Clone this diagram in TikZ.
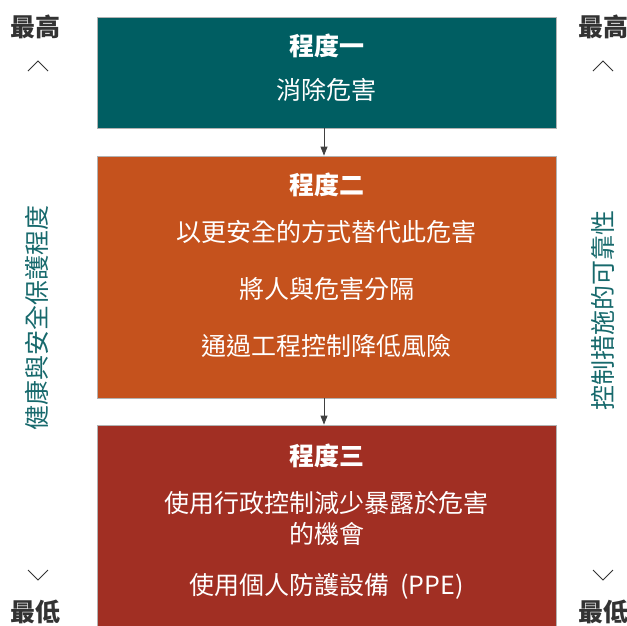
\documentclass[tikz,border=0pt]{standalone}
\usepackage{fontspec}
\newfontfamily\cjk{Noto Sans CJK TC}
\usepackage{tikz}
\usetikzlibrary{arrows.meta}
\definecolor{levelone}{HTML}{005E62}
\definecolor{leveltwo}{HTML}{C5521D}
\definecolor{levelthree}{HTML}{A12F23}
\definecolor{sidetext}{HTML}{17696C}
\definecolor{darktext}{HTML}{333333}
\tikzset{
  levelbox/.style={draw=black!30, line width=0.8pt, minimum width=459pt, inner sep=0pt},
  titletext/.style={text=white, font=\cjk\bfseries\fontsize{25}{30}\selectfont},
  bodytext/.style={text=white, font=\cjk\fontsize{25}{31}\selectfont, align=center},
  sidelabel/.style={text=sidetext, font=\cjk\fontsize{25}{30}\selectfont, rotate=90},
  endlabel/.style={text=darktext, font=\cjk\bfseries\fontsize{25}{30}\selectfont},
  levelarrow/.style={-{Triangle[length=9pt,width=7pt]}, draw=black!75, line width=0.8pt, fill=black!75},
}
\begin{document}
\begin{tikzpicture}[x=1pt, y=-1pt]
\useasboundingbox (0,0) rectangle (627,625);
\begin{scope}
\clip (0,0) rectangle (627,625);
% the three levels
\node[levelbox, fill=levelone, minimum height=111pt] (lvlone) at (326.5,72.5) {};
\node[levelbox, fill=leveltwo, minimum height=242pt] (lvltwo) at (326.5,277) {};
\node[levelbox, fill=levelthree, minimum height=202pt] (lvlthree) at (326.5,526) {};
\end{scope}

% texts of level one
\node[titletext] (titleone) at (326.5,46) {程度一};
\node[bodytext] (elim) at (326.5,90) {消除危害};
% texts of level two
\node[titletext] (titletwo) at (326.5,185) {程度二};
\node[bodytext] (subst) at (326.5,232) {以更安全的方式替代此危害};
\node[bodytext] (isol) at (326.5,289) {將人與危害分隔};
\node[bodytext] (engin) at (326.5,346) {通過工程控制降低風險};
% texts of level three
\node[titletext] (titlethree) at (326.5,456) {程度三};
\node[bodytext] (admin) at (326.5,518) {使用行政控制減少暴露於危害\\的機會};
\node[bodytext] (ppe) at (326.5,586) {使用個人防護設備\ \ (PPE)};

% arrows
\draw[levelarrow] (lvlone.south -| 324,0) -- (lvltwo.north -| 324,0);
\draw[levelarrow] (lvltwo.south -| 324,0) -- (lvlthree.north -| 324,0);

% left scale
\node[endlabel] (lefttop) at (35,27) {最高};
\node[endlabel] (leftbot) at (35,612) {最低};
\node[sidelabel] (leftside) at (37,318) {健康與安全保護程度};
\draw[darktext, line width=0.8pt] (28,71) -- (38,61) -- (48,71); % up chevron
\draw[darktext, line width=0.8pt] (28,570) -- (38,580) -- (48,570); % down chevron

% right scale
\node[endlabel] (righttop) at (603,27) {最高};
\node[endlabel] (rightbot) at (603,612) {最低};
\node[sidelabel] (rightside) at (603,310) {控制措施的可靠性};
\draw[darktext, line width=0.8pt] (593,71) -- (603,61) -- (613,71); % up chevron
\draw[darktext, line width=0.8pt] (593,570) -- (603,580) -- (613,570); % down chevron
\end{tikzpicture}
\end{document}
